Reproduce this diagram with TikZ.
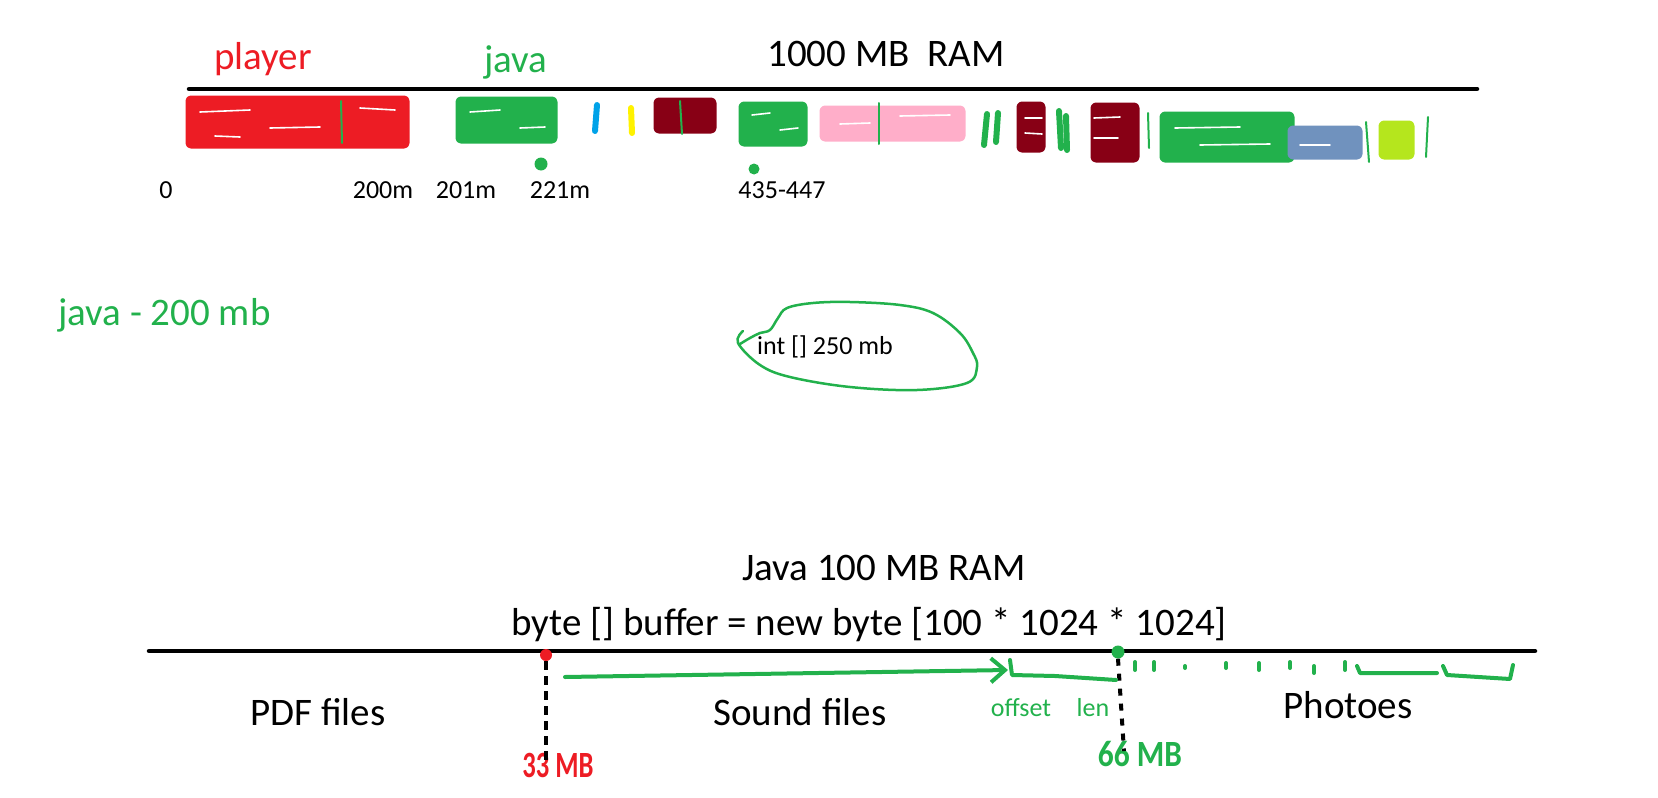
\documentclass[tikz,border=0pt]{standalone}
\usepackage{fontspec}
\setmainfont{Carlito}
\usetikzlibrary{arrows.meta}
\definecolor{pred}{HTML}{ED1C24}
\definecolor{pgreen}{HTML}{22B14C}
\definecolor{pdark}{HTML}{880015}
\definecolor{ppink}{HTML}{FFAEC9}
\definecolor{pblue}{HTML}{00A2E8}
\definecolor{pyellow}{HTML}{FFF200}
\definecolor{psteel}{HTML}{7092BE}
\definecolor{plime}{HTML}{B5E61D}
\begin{document}
\begin{tikzpicture}[x=1pt,y=-1pt,
 big/.style={font=\fontsize{39}{46}\selectfont, inner sep=0pt},
 small/.style={font=\fontsize{26}{31}\selectfont, inner sep=0pt},
 hand/.style={font=\fontsize{37}{44}\selectfont\bfseries, inner sep=0pt},
 blob/.style={fill=#1, draw=#1, line width=5pt, line join=round, rounded corners=3pt},
 pen/.style={draw=#1, line width=6pt, line cap=round},
 thinpen/.style={draw=pgreen, line width=2pt, line cap=round},
 ruler/.style={line width=4.5pt, line cap=round},
 streak/.style={draw=white, line width=1.6pt, line cap=round},
 gpen/.style={draw=pgreen, line width=4pt, line cap=round, line join=round},
 dot/.style={circle, fill=#1, inner sep=0pt, minimum size=13pt},
]
\useasboundingbox (0,0) rectangle (1658,798);

% ---------- top: 1000 MB RAM ----------
\node[big, text=pred] (player) at (263,59) {player};
\node[big, text=pgreen] (java) at (516,62) {java};
\node[big] (ram) at (886,54) {1000 MB\ \ RAM};
\coordinate (topL) at (189,89);
\coordinate (topR) at (1477,89);
\draw[ruler] (topL) -- (topR);

% memory blocks
\draw[blob=pred] (188,98) rectangle (407,146);
\draw[streak] (200,112) -- (250,110);
\draw[streak] (270,128) -- (320,127);
\draw[streak] (360,108) -- (395,110);
\draw[streak] (215,136) -- (240,137);
\draw[thinpen] (341,101) -- (342,143);

\draw[blob=pgreen] (458,99) rectangle (555,141);
\draw[streak] (470,112) -- (500,110);
\draw[streak] (520,128) -- (545,127);
\draw[pen=pblue] (597,105) -- (595,131);
\draw[pen=pyellow] (631,108) -- (632,133);
\draw[blob=pdark] (656,100) rectangle (714,131);
\draw[thinpen] (680,101) -- (682,134);
\draw[blob=pgreen] (741,104) rectangle (805,144);
\draw[streak] (752,115) -- (770,113);
\draw[streak] (780,130) -- (798,128);
\draw[blob=ppink] (822,108) rectangle (963,139);
\draw[streak] (840,124) -- (870,123);
\draw[streak] (900,116) -- (950,115);
\draw[thinpen] (879,103) -- (879,144);
\draw[pen=pgreen] (987,114) -- (984,145);
\draw[pen=pgreen] (998,113) -- (996,142);
\draw[blob=pdark] (1019,104) rectangle (1043,150);
\draw[streak] (1025,118) -- (1042,118);
\draw[streak] (1025,133) -- (1042,134);
\draw[pen=pgreen] (1059,111) -- (1061,148);
\draw[pen=pgreen] (1066,116) -- (1067,150);
\draw[blob=pdark] (1093,105) rectangle (1137,160);
\draw[streak] (1094,118) -- (1120,117);
\draw[streak] (1094,138) -- (1118,138);
\draw[thinpen] (1148,113) -- (1149,148);
\draw[blob=pgreen] (1162,114) rectangle (1292,160);
\draw[streak] (1175,128) -- (1240,127);
\draw[streak] (1200,145) -- (1270,144);
\draw[blob=psteel] (1290,128) rectangle (1360,157);
\draw[streak] (1300,145) -- (1330,145);
\draw[thinpen] (1366,122) -- (1369,162);
\draw[blob=plime] (1381,123) rectangle (1412,157);
\draw[thinpen] (1428,117) -- (1426,157);

\node[dot=pgreen] (d1) at (541,164) {};
\node[dot=pgreen, minimum size=11pt] (d2) at (754,169) {};

\node[small] (l0) at (166,190) {0};
\node[small] (l200) at (383,190) {200m};
\node[small] (l201) at (466,190) {201m};
\node[small] (l221) at (560,190) {221m};
\node[small] (l435) at (782,190) {435-447};

% ---------- middle ----------
\node[big, text=pgreen, anchor=west] (java200) at (58,315) {java - 200 mb};
\draw[pgreen, line width=2.5pt, line cap=round, line join=round]
  plot[smooth, tension=0.6] coordinates {(743,331) (738,343) (760,365) (790,377) (850,387)
  (917,390) (967,383) (977,367) (973,353) (960,333) (933,313) (900,305) (850,302)
  (813,303) (787,308) (778,318) (770,330) (760,333) (750,338) (740,344)};
\node[small, anchor=west] (intarr) at (757,347) {int [] 250 mb};

% ---------- bottom: Java 100 MB RAM ----------
\node[big] (jram) at (884,568) {Java 100 MB RAM};
\node[big] (buf) at (869,625) {byte [] buffer = new byte [100 * 1024 * 1024]};
\coordinate (botL) at (149,651);
\coordinate (botR) at (1535,651);
\draw[ruler] (botL) -- (botR);

\node[dot=pred, minimum size=12pt] (rdot) at (546,655) {};
\node[hand, text=pred] (mb33) at (558,765) {\scalebox{0.72}[1]{33 MB}};
\draw[line width=4pt, dash pattern=on 9pt off 6pt] (rdot.south) -- ([yshift=-8pt]mb33.north -| rdot);

\node[dot=pgreen] (gdot) at (1118,652) {};
\node[hand, text=pgreen] (mb66) at (1140,754) {\scalebox{0.85}[1]{66 MB}};
\draw[line width=4pt, dash pattern=on 7pt off 8pt] (gdot.south) -- ([yshift=-10pt,xshift=6pt]mb66.north -| gdot);

\coordinate (aS) at (565,677);
\coordinate (aE) at (1008,670);
\draw[gpen, -{Straight Barb[length=14pt, width=24pt]}] (aS) -- (aE);
\draw[gpen] (1010,660) -- (1012,675) -- (1055,676) -- (1116,680);

% dashed green continuation
\foreach \x/\a/\b in {1135/662/670, 1154/662/670, 1185/666/668, 1226/663/668, 1259/663/670, 1290/662/668, 1314/666/673, 1345/662/670}
  \draw[gpen] (\x,\a) -- (\x,\b);
\draw[gpen] (1357,666) -- (1360,673) -- (1437,673);
\draw[gpen] (1443,666) -- (1447,675) -- (1510,679) -- (1513,665);

\node[big] (pdf) at (318,712) {PDF files};
\node[big] (sound) at (800,712) {Sound files};
\node[small, text=pgreen] (offset) at (1021,708) {offset};
\node[small, text=pgreen] (len) at (1093,708) {len};
\node[big] (photo) at (1348,705) {Photoes};
\end{tikzpicture}
\end{document}
